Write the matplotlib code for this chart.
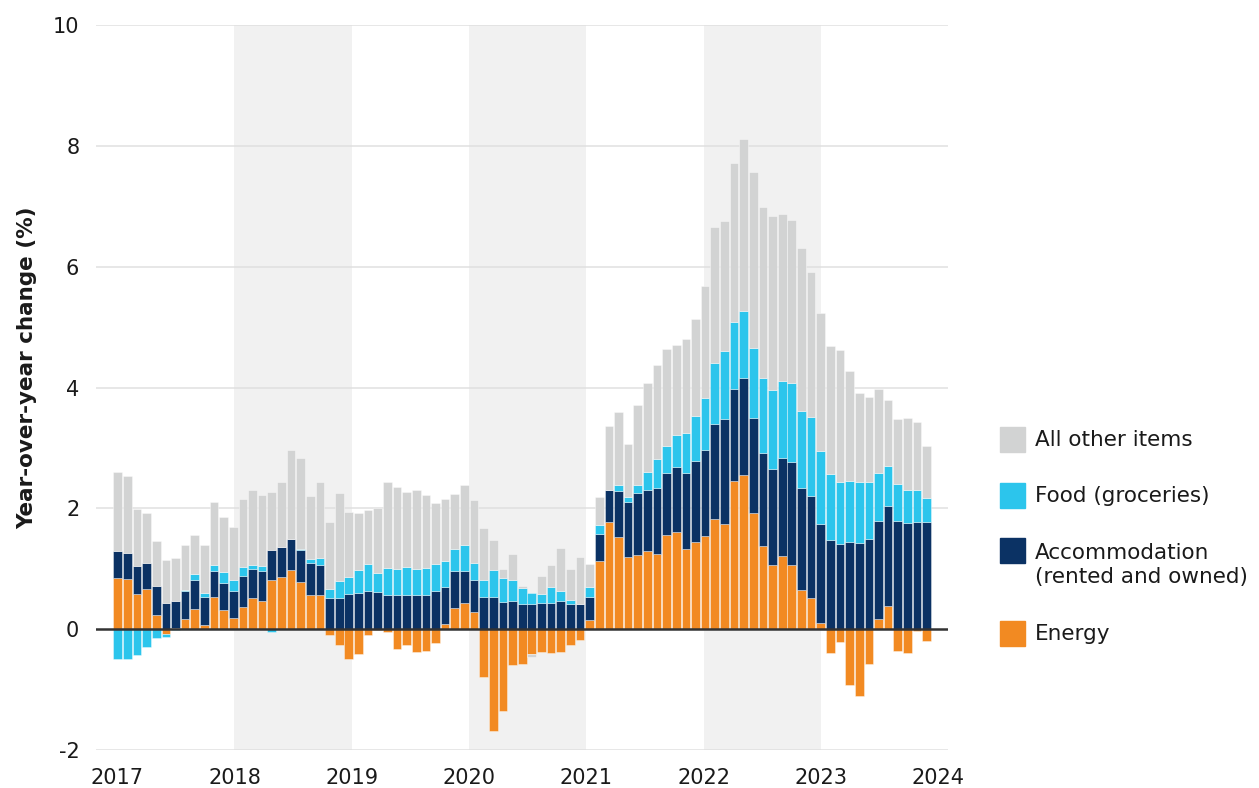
import numpy as np
import matplotlib
matplotlib.use("Agg")
import matplotlib.pyplot as plt
from matplotlib.patches import Rectangle

plt.rcParams['font.family'] = ['DejaVu Sans']
plt.rcParams['axes.unicode_minus'] = False

# ---------------- data (Jan 2017 ... Jan 2024, monthly, % contribution) -------------
months = [f"{y}-{m:02d}" for y in range(2017, 2024) for m in range(1, 13)] + ["2024-01"]

energy = [0.84, 0.83, 0.59, 0.67, 0.24, -0.08, 0.02, 0.17, 0.34, 0.07, 0.53, 0.32,
          0.18, 0.37, 0.52, 0.46, 0.82, 0.87, 0.98, 0.78, 0.56, 0.56, -0.10, -0.26,
          -0.50, -0.41, -0.10, -0.02, -0.05, -0.33, -0.26, -0.375, -0.36, -0.23, 0.08, 0.35,
          0.43, 0.28, -0.79, -1.69, -1.36, -0.60, -0.57, -0.41, -0.375, -0.40, -0.375, -0.265,
          -0.18, 0.16, 1.13, 1.78, 1.53, 1.20, 1.22, 1.29, 1.25, 1.56, 1.61, 1.33,
          1.45, 1.54, 1.82, 1.74, 2.46, 2.55, 1.92, 1.37, 1.07, 1.21, 1.06, 0.65,
          0.51, 0.10, -0.39, -0.21, -0.92, -1.10, -0.57, 0.17, 0.38, -0.36, -0.39, -0.03,
          -0.19]

accommodation = [0.45, 0.43, 0.45, 0.43, 0.47, 0.43, 0.45, 0.46, 0.47, 0.47, 0.43, 0.45,
                 0.45, 0.51, 0.48, 0.50, 0.49, 0.49, 0.51, 0.53, 0.54, 0.51, 0.52, 0.52,
                 0.585, 0.60, 0.64, 0.61, 0.57, 0.57, 0.57, 0.57, 0.57, 0.64, 0.62, 0.61,
                 0.53, 0.54, 0.54, 0.535, 0.45, 0.46, 0.41, 0.42, 0.44, 0.43, 0.46, 0.42,
                 0.42, 0.38, 0.44, 0.52, 0.75, 0.91, 1.04, 1.02, 1.08, 1.03, 1.07, 1.25,
                 1.33, 1.42, 1.57, 1.74, 1.52, 1.61, 1.57, 1.55, 1.58, 1.63, 1.71, 1.69,
                 1.70, 1.64, 1.48, 1.41, 1.44, 1.43, 1.50, 1.62, 1.66, 1.79, 1.76, 1.78,
                 1.78]

food = [-0.49, -0.50, -0.43, -0.30, -0.14, -0.05, -0.02, 0.02, 0.10, 0.065, 0.10, 0.17,
        0.18, 0.15, 0.06, 0.08, -0.05, 0.0, 0.0, 0.01, 0.06, 0.11, 0.15, 0.27,
        0.285, 0.38, 0.44, 0.32, 0.45, 0.42, 0.46, 0.42, 0.44, 0.44, 0.43, 0.36,
        0.43, 0.27, 0.27, 0.445, 0.39, 0.35, 0.27, 0.18, 0.14, 0.265, 0.18, 0.06,
        0.0, 0.16, 0.15, 0.0, 0.11, 0.08, 0.12, 0.29, 0.48, 0.45, 0.54, 0.66,
        0.75, 0.87, 1.01, 1.13, 1.10, 1.10, 1.16, 1.24, 1.31, 1.27, 1.31, 1.27,
        1.30, 1.21, 1.09, 1.03, 1.01, 1.00, 0.93, 0.79, 0.66, 0.62, 0.54, 0.53,
        0.39]

other = [1.31, 1.28, 0.95, 0.83, 0.75, 0.71, 0.71, 0.74, 0.645, 0.79, 1.04, 0.92,
         0.88, 1.12, 1.24, 1.18, 0.96, 1.08, 1.48, 1.51, 1.05, 1.26, 1.10, 1.46,
         1.07, 0.94, 0.90, 1.08, 1.42, 1.36, 1.24, 1.32, 1.21, 1.01, 1.03, 0.92,
         0.99, 1.05, 0.86, 0.49, 0.15, 0.44, 0.04, -0.05, 0.30, 0.365, 0.70, 0.51,
         0.77, 0.38, 0.47, 1.07, 1.20, 0.87, 1.33, 1.48, 1.56, 1.60, 1.49, 1.56,
         1.60, 1.85, 2.25, 2.15, 2.63, 2.85, 2.92, 2.83, 2.88, 2.76, 2.70, 2.70,
         2.40, 2.29, 2.12, 2.18, 1.82, 1.48, 1.41, 1.40, 1.09, 1.07, 1.20, 1.12,
         0.87]

series_names = ["Energy", "Accommodation\n(rented and owned)", "Food (groceries)", "All other items"]
series_values = [energy, accommodation, food, other]
series_colors = ["#f28a22", "#0b3264", "#2cc5ec", "#d2d3d3"]

year_ticks = [2017, 2018, 2019, 2020, 2021, 2022, 2023, 2024]
shaded_years = [2018, 2020, 2022]
y_ticks = [-2, 0, 2, 4, 6, 8, 10]

# ---------------- figure ----------------
W, H = 1259, 788
fig = plt.figure(figsize=(W / 100, H / 100), dpi=100)
ax = fig.add_axes([96 / W, (H - 750) / H, (948 - 96) / W, (750 - 25) / H])

n = len(months)
step = 0.08213
xpos = 2017.004 + np.arange(n) * step
width = 0.074

pos_bottom = np.zeros(n)
neg_bottom = np.zeros(n)
for vals, col in zip(series_values, series_colors):
    v = np.asarray(vals, dtype=float)
    bottom = np.where(v >= 0, pos_bottom, neg_bottom)
    ax.bar(xpos, v, width=width, bottom=bottom, color=col,
           edgecolor=(1, 1, 1, 0.45), linewidth=0.6, zorder=3)
    pos_bottom = pos_bottom + np.where(v > 0, v, 0)
    neg_bottom = neg_bottom + np.where(v < 0, v, 0)

for y0 in shaded_years:
    ax.axvspan(y0, y0 + 1, color="#f1f1f1", zorder=0, lw=0)

for yt in y_ticks:
    if yt != 0:
        ax.axhline(yt, color="#e0e0e0", lw=1.1, zorder=1)
ax.axhline(0, color="#333333", lw=1.8, zorder=5)

ax.set_xlim(2016.819, 2024.085)
ax.set_ylim(-2, 10)
ax.set_xticks(year_ticks)
ax.set_xticklabels([str(y) for y in year_ticks])
ax.set_yticks(y_ticks)
ax.set_yticklabels([str(y) for y in y_ticks])
ax.tick_params(axis="both", length=0, labelsize=15, colors="#1a1a1a")
ax.tick_params(axis="y", pad=12)
ax.tick_params(axis="x", pad=13)
for s in ax.spines.values():
    s.set_visible(False)
ax.set_facecolor("white")

fig.text(27 / W, 1 - 368 / H, "Year-over-year change (%)", rotation=90,
         ha="center", va="center", fontsize=15.5, fontweight="bold", color="#1a1a1a")

# ---------------- legend ----------------
legend_items = [("All other items", series_colors[3], 439, 440),
                ("Food (groceries)", series_colors[2], 495, 496),
                ("Accommodation\n(rented and owned)", series_colors[1], 550, 565),
                ("Energy", series_colors[0], 633.5, 634)]
for label, col, ysq, ytx in legend_items:
    fig.patches.append(Rectangle((1000 / W, 1 - (ysq + 12.5) / H), 25 / W, 25 / H,
                                 transform=fig.transFigure, color=col, figure=fig))
    fig.text(1035 / W, 1 - ytx / H, label, ha="left", va="center", fontsize=15.5,
             color="#1a1a1a", linespacing=1.25)

fig.savefig("out.png", dpi=100)
